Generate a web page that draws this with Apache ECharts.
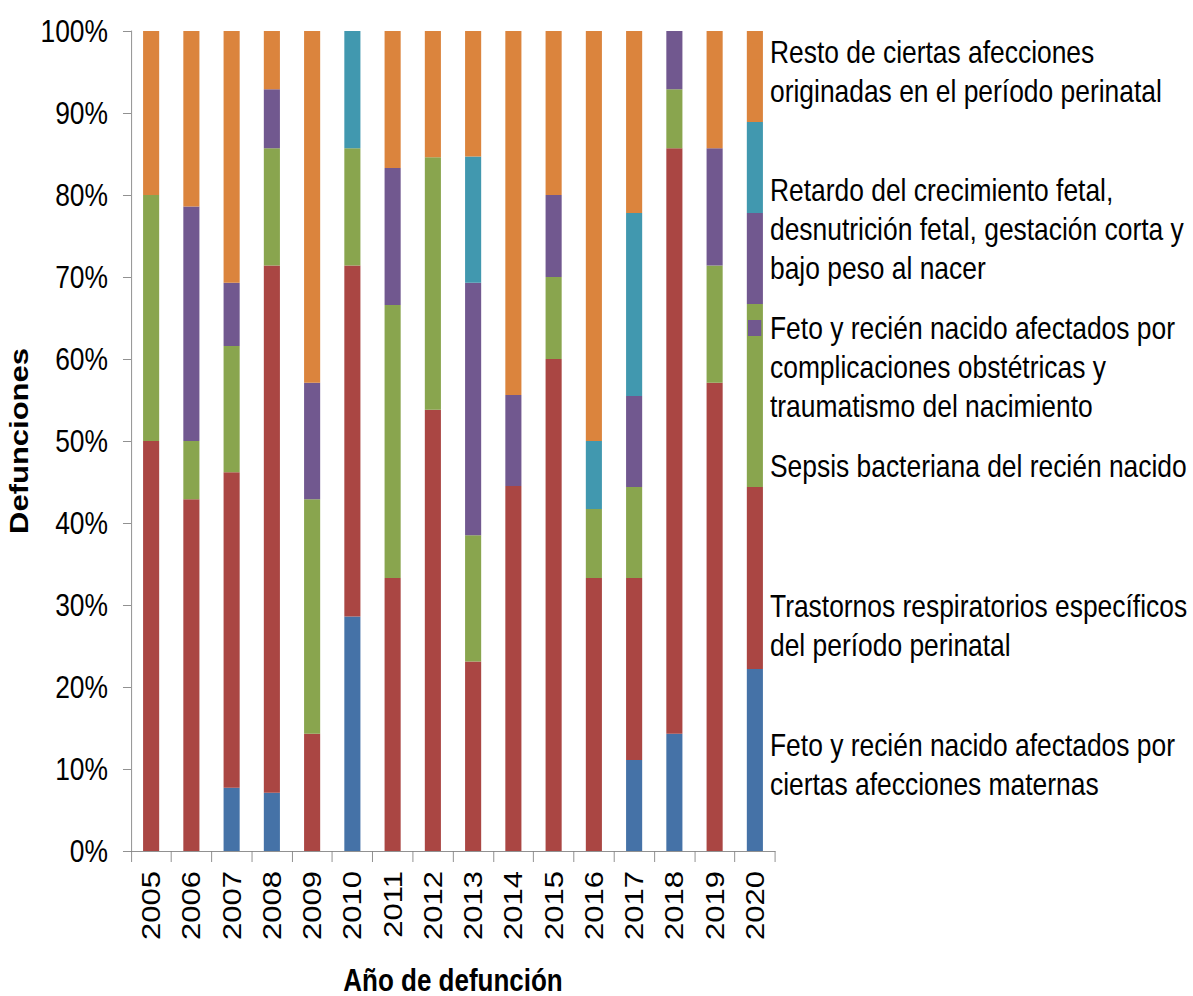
<!DOCTYPE html>
<html>
<head>
<meta charset="utf-8">
<script src="https://cdn.jsdelivr.net/npm/echarts@6/dist/echarts.min.js"></script>
<style>
html, body { margin: 0; padding: 0; overflow: hidden; background: #fff; width: 1193px; height: 996px; }
#wrap { width: 1193px; height: 996px; overflow: hidden; position: relative; }
#chart { position: absolute; left: 0; top: 0; height: 996px; transform-origin: 0 0; }
</style>
</head>
<body>
<div id="wrap"><div id="chart"></div></div>
<script>
// ---- data (percent of deaths per year) ----
const years = ['2005','2006','2007','2008','2009','2010','2011','2012','2013','2014','2015','2016','2017','2018','2019','2020'];
const seriesNames = [
  'Feto y recién nacido afectados por\nciertas afecciones maternas',
  'Trastornos respiratorios específicos\ndel período perinatal',
  'Sepsis bacteriana del recién nacido',
  'Feto y recién nacido afectados por\ncomplicaciones obstétricas y\ntraumatismo del nacimiento',
  'Retardo del crecimiento fetal,\ndesnutrición fetal, gestación corta y\nbajo peso al nacer',
  'Resto de ciertas afecciones\noriginadas en el período perinatal'
];
const maternas      = [0, 0, 7.7, 7.1, 0, 28.6, 0, 0, 0, 0, 0, 0, 11.1, 14.3, 0, 22.2];
const respiratorios = [50, 42.9, 38.5, 64.3, 14.3, 42.8, 33.3, 53.8, 23.1, 44.5, 60, 33.3, 22.2, 71.4, 57.1, 22.2];
const sepsis        = [30, 7.1, 15.4, 14.3, 28.6, 14.3, 33.3, 30.8, 15.4, 0, 10, 8.4, 11.1, 7.2, 14.3, 22.3];
const complicaciones= [0, 28.6, 7.7, 7.2, 14.2, 0, 16.7, 0, 30.8, 11.1, 10, 0, 11.1, 7.1, 14.3, 11.1];
const retardo       = [0, 0, 0, 0, 0, 14.3, 0, 0, 15.4, 0, 0, 8.3, 22.3, 0, 0, 11.1];
const resto         = [20, 21.4, 30.7, 7.1, 42.9, 0, 16.7, 15.4, 15.3, 44.4, 20, 50, 22.2, 0, 14.3, 11.1];
const yTicks = { min: 0, max: 100, interval: 10 };

// ---- style ----
const palette = ['#4572A7', '#AA4643', '#89A54E', '#71588F', '#4198AF', '#DB843D'];
const C = 0.825;               // horizontal squeeze of the reference
const W = 1193 / C;
const FONT = '"Liberation Sans", Arial, sans-serif';
const axisGray = '#868686';

const values = [maternas, respiratorios, sepsis, complicaciones, retardo, resto];

// legend layout (block vertical centers in px)
const legendCenters = [764.5, 625.5, 466, 367, 229, 71];
const LH = 39;
const legendTextX = 770 / C;
const markerX = 748 / C;
const graphics = [];
seriesNames.forEach((name, i) => {
  const lines = name.split('\n').length;
  const firstLine = legendCenters[i] - (lines - 1) * LH / 2;
  graphics.push({
    type: 'rect', z: 100,
    shape: { x: markerX, y: firstLine - 8, width: 16, height: 16 },
    style: { fill: palette[i] }
  });
  graphics.push({
    type: 'text', z: 100,
    x: legendTextX, y: legendCenters[i],
    style: { text: name, fill: '#000', font: '32px ' + FONT, lineHeight: LH, verticalAlign: 'middle', align: 'left' }
  });
});

const dom = document.getElementById('chart');
dom.style.width = W + 'px';
dom.style.transform = 'scaleX(' + C + ')';
const chart = echarts.init(dom, null, { renderer: 'svg', width: W, height: 996 });
chart.setOption({
  animation: false,
  backgroundColor: '#fff',
  textStyle: { fontFamily: FONT },
  grid: { left: 131 / C, right: W - 775 / C, top: 31, bottom: 145, containLabel: false, outerBoundsMode: 'none' },
  xAxis: {
    type: 'category',
    data: years,
    axisLine: { lineStyle: { color: axisGray, width: 1 } },
    axisTick: { show: true, interval: 0, length: 11, lineStyle: { color: axisGray } },
    axisLabel: { rotate: 90, interval: 0, fontSize: 31, color: '#000', margin: 20, fontFamily: FONT },
    name: 'Año de defunción',
    nameLocation: 'middle',
    nameGap: 113,
    nameTextStyle: { fontWeight: 'bold', fontSize: 31.5, lineHeight: 31.5, color: '#000', fontFamily: FONT }
  },
  yAxis: {
    type: 'value',
    min: yTicks.min, max: yTicks.max, interval: yTicks.interval,
    axisLine: { show: true, lineStyle: { color: axisGray, width: 1 } },
    axisTick: { show: true, length: 8 / C, lineStyle: { color: axisGray } },
    splitLine: { show: false },
    axisLabel: { formatter: '{value}%', fontSize: 32, color: '#000', margin: 23 / C, fontFamily: FONT },
    name: 'Defunciones',
    nameLocation: 'middle',
    nameRotate: 90,
    nameGap: 116,
    nameTextStyle: { fontWeight: 'bold', fontSize: 31, color: '#000', fontFamily: FONT }
  },
  series: values.map((v, i) => ({
    type: 'bar',
    name: seriesNames[i],
    stack: 'total',
    barWidth: '40%',
    data: v,
    itemStyle: { color: palette[i] }
  })),
  graphic: graphics
});
</script>
</body>
</html>
